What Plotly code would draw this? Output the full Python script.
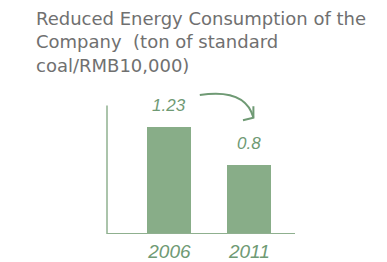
import plotly.graph_objects as go

title_lines = ["Reduced Energy Consumption of the", "Company  (ton of standard", "coal/RMB10,000)"]
years = ["2006", "2011"]
values = [1.23, 0.8]
value_labels = ["1.23", "0.8"]

green = "#88ad88"
text_green = "#6f9a74"
xpos = [0, 1]

fig = go.Figure()
fig.add_trace(go.Bar(x=xpos, y=values, width=0.55, marker=dict(color=green, line=dict(width=0)),
                     hoverinfo="skip", showlegend=False))

for xv, v, lab in zip(xpos, values, value_labels):
    fig.add_annotation(x=xv, y=v, text=lab, showarrow=False, yanchor="bottom", yshift=10,
                       font=dict(family="Liberation Sans", size=17, color=text_green, style="italic"))

# title as annotation
fig.add_annotation(xref="paper", yref="paper", x=(34 - 107) / 188, y=1 + 76 / 152,
                   xanchor="left", yanchor="top", align="left", showarrow=False,
                   text="<br>".join(title_lines),
                   font=dict(family="DejaVu Sans", size=18, color="#707070"))

# axis lines
fig.add_shape(type="line", xref="x domain", yref="y", x0=0, x1=0, y0=0, y1=1.48,
              line=dict(color="#8fb08f", width=1.5))
fig.add_shape(type="line", xref="x domain", yref="y", x0=0, x1=1, y0=0, y1=0,
              line=dict(color="#8fb08f", width=2))

# curved arrow
arrow_col = "#6f9a74"
fig.add_shape(type="path", xref="x", yref="y",
              path="M 0.38,1.60 Q 0.95,1.68 1.05,1.34",
              line=dict(color=arrow_col, width=2))
fig.add_shape(type="path", xref="x", yref="y",
              path="M 0.92,1.31 L 1.05,1.34 L 1.05,1.47",
              line=dict(color=arrow_col, width=2))

fig.update_layout(
    width=387, height=262,
    margin=dict(l=107, r=92, t=82, b=28, autoexpand=False),
    paper_bgcolor="white", plot_bgcolor="white",
    xaxis=dict(range=[-0.78, 1.57], tickmode="array", tickvals=xpos, ticktext=years,
               showgrid=False, zeroline=False, showline=False, ticks="", ticklabelstandoff=4,
               automargin=False,
               tickfont=dict(family="Liberation Sans", size=19, color=text_green, style="italic")),
    yaxis=dict(range=[0, 1.75], showgrid=False, zeroline=False, showline=False,
               showticklabels=False, ticks="", automargin=False),
    bargap=0,
)

fig.write_html("out.html", config={"displayModeBar": False},
               post_script="document.body.style.margin='0';")
